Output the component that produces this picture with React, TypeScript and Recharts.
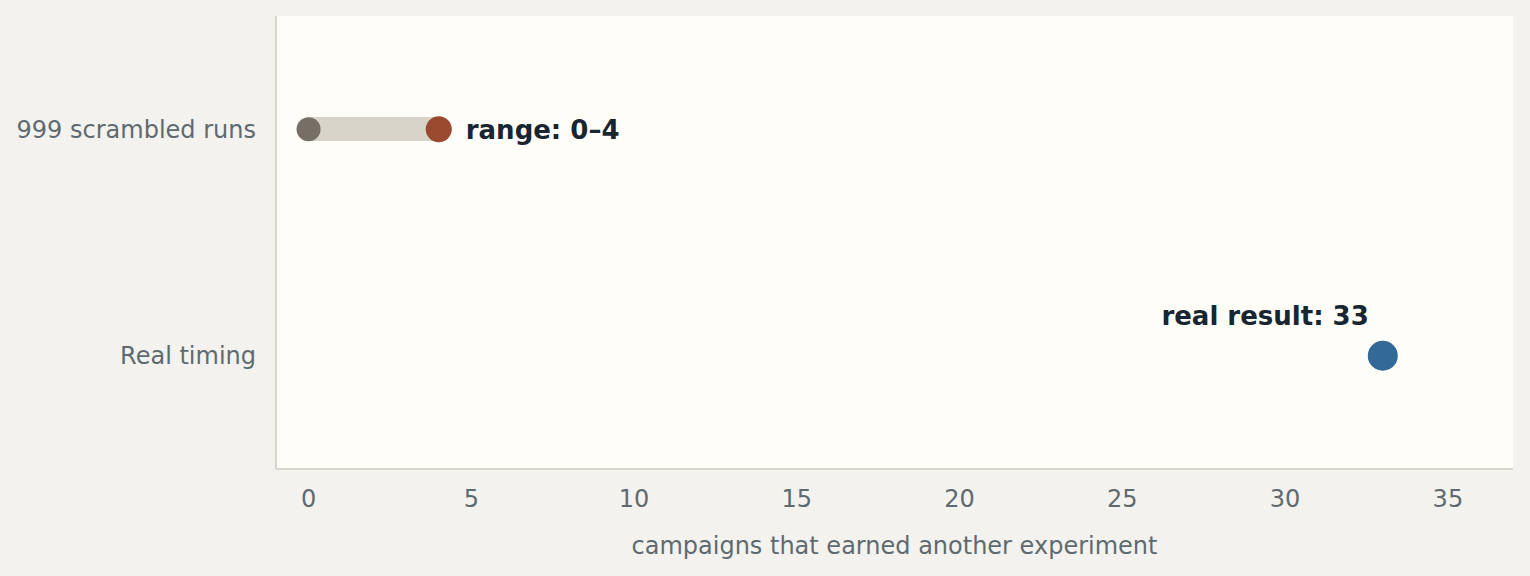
import React from "react";
import {
  ComposedChart,
  Bar,
  Scatter,
  XAxis,
  YAxis,
  CartesianGrid,
} from "recharts";

const categories = ["999 scrambled runs", "Real timing"];
const scrambledRange = [0, 4];
const realResult = [33];
const xTicks = [0, 5, 10, 15, 20, 25, 30, 35];

const rows = [
  { name: categories[0], range: scrambledRange },
  { name: categories[1] },
];
const lowData = [{ name: categories[0], value: scrambledRange[0] }];
const highData = [
  {
    name: categories[0],
    value: scrambledRange[1],
    label: `range: ${scrambledRange[0]}–${scrambledRange[1]}`,
  },
];
const realData = [
  { name: categories[1], value: realResult[0], label: `real result: ${realResult[0]}` },
];

const FONT = "DejaVu Sans, sans-serif";
const AXIS_GREY = "#5f6a70";
const INK = "#172630";

function Dot(fill: string, r: number, labelPos?: "right" | "above") {
  return (props: any) => {
    const { cx, cy, payload } = props;
    if (cx == null || cy == null) return null;
    return (
      <g>
        <circle cx={cx} cy={cy} r={r} fill={fill} />
        {labelPos === "right" && (
          <text x={cx + 27} y={cy} dy="0.36em" fontFamily={FONT} fontSize={26}
            fontWeight="bold" fill={INK}>
            {payload.label}
          </text>
        )}
        {labelPos === "above" && (
          <text x={cx - 14} y={cy - 40} dy="0.36em" textAnchor="end" fontFamily={FONT}
            fontSize={26} fontWeight="bold" fill={INK}>
            {payload.label}
          </text>
        )}
      </g>
    );
  };
}

export default function App() {
  return (
    <div style={{ position: "fixed", inset: 0, background: "#f3f2ee" }}>
      <ComposedChart
        width={1530}
        height={576}
        data={rows}
        layout="vertical"
        margin={{ top: 16, right: 17, left: 0, bottom: 0 }}
      >
        <CartesianGrid fill="#fffdf8" horizontal={false} vertical={false} stroke="none" />
        <XAxis
          type="number"
          domain={[-1, 37]}
          ticks={xTicks}
          allowDataOverflow
          height={107}
          tickLine={false}
          tickSize={0}
          tickMargin={21}
          axisLine={{ stroke: "#d8d4cc", strokeWidth: 2 }}
          tick={{ fill: AXIS_GREY, fontSize: 24, fontFamily: FONT }}
          label={{
            value: "campaigns that earned another experiment",
            position: "insideBottom",
            offset: 22,
            fill: AXIS_GREY,
            fontSize: 24,
            fontFamily: FONT,
          }}
        />
        <YAxis
          type="category"
          dataKey="name"
          allowDuplicatedCategory={false}
          width={276}
          tickLine={false}
          tickSize={0}
          tickMargin={20}
          axisLine={{ stroke: "#d8d4cc", strokeWidth: 2 }}
          tick={{ fill: AXIS_GREY, fontSize: 24, fontFamily: FONT }}
        />
        <Bar dataKey="range" barSize={24} fill="#d8d4ca" isAnimationActive={false} />
        <Scatter data={lowData} dataKey="value" shape={Dot("#776e66", 12)} isAnimationActive={false} />
        <Scatter data={highData} dataKey="value" shape={Dot("#9a4a2e", 13, "right")} isAnimationActive={false} />
        <Scatter data={realData} dataKey="value" shape={Dot("#336997", 15, "above")} isAnimationActive={false} />
      </ComposedChart>
    </div>
  );
}
